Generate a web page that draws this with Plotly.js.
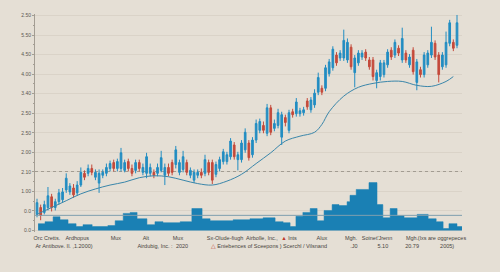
<!DOCTYPE html>
<html>
<head>
<meta charset="utf-8">
<script src="https://cdn.plot.ly/plotly-3.0.1.min.js"></script>
<style>
html,body{margin:0;padding:0;background:#e5dfd5;}
#chart{width:500px;height:272px;}
</style>
</head>
<body>
<div id="chart"></div>
<script>
// ---------- DATA ----------
const openPrice = [16.5,23.5,18.5,23.5,34.5,23.5,29.5,31.5,41.5,39.5,
  43.5,38.5,46.5,58.5,58.5,63.5,54.5,48.5,56.5,58.5,
  63.5,69.5,63.5,63.5,61.5,70.5,63.5,61.5,69.5,59.5,
  58.5,58.5,59.5,58.5,61.5,56.5,64.5,69.5,67.5,59.5,
  62.5,69.5,56.5,51.5,56.5,59.5,58.5,69.5,69.5,57.5,
  63.5,70.5,70.5,75.5,87.5,72.5,72.5,82.5,89.5,77.5,
  92.5,102.5,107.5,99.5,125.5,104.5,107.5,95.5,115.5,102.5,
  121.5,119.5,119.5,120.5,132.5,123.5,128.5,141.5,145.5,145.5,
  160.5,166.5,179.5,176.5,176.5,174.5,187.5,161.5,171.5,177.5,
  182.5,174.5,174.5,153.5,157.5,159.5,169.5,184.5,179.5,186.5,
  174.5,181.5,169.5,184.5,151.5,164.5,159.5,169.5,179.5,191.5,
  179.5,167.5,169.5,191.5,192.5,189.5];
const highPrice = [32.5,26.5,30.5,44.5,37.5,32.5,42.5,43.5,58.5,48.5,
  47.5,50.5,64.5,61.5,67.5,67.5,62.5,62.5,62.5,68.5,
  71.5,72.5,73.5,84.5,72.5,73.5,67.5,72.5,72.5,68.5,
  79.5,68.5,62.5,68.5,81.5,68.5,68.5,72.5,86.5,72.5,
  81.5,72.5,64.5,62.5,62.5,63.5,77.5,72.5,72.5,70.5,
  75.5,83.5,80.5,94.5,90.5,80.5,92.5,104.5,92.5,95.5,
  113.5,114.5,111.5,129.5,128.5,113.5,124.5,121.5,118.5,123.5,
  124.5,135.5,125.5,126.5,135.5,136.5,144.5,161.5,148.5,169.5,
  175.5,188.5,182.5,184.5,205.5,196.5,190.5,179.5,184.5,184.5,
  185.5,177.5,177.5,164.5,174.5,174.5,185.5,187.5,195.5,189.5,
  207.5,184.5,180.5,187.5,175.5,167.5,182.5,184.5,208.5,194.5,
  182.5,182.5,203.5,215.5,195.5,220.5];
const lowPrice = [13.5,10.5,16.5,20.5,19.5,20.5,26.5,28.5,38.5,36.5,
  33.5,35.5,44.5,51.5,55.5,56.5,51.5,38.5,53.5,55.5,
  60.5,60.5,60.5,60.5,59.5,60.5,55.5,58.5,60.5,56.5,
  53.5,55.5,53.5,55.5,59.5,46.5,55.5,56.5,63.5,56.5,
  59.5,56.5,53.5,48.5,53.5,53.5,55.5,56.5,47.5,54.5,
  60.5,67.5,67.5,72.5,72.5,61.5,69.5,79.5,71.5,74.5,
  89.5,99.5,99.5,96.5,97.5,101.5,104.5,87.5,106.5,99.5,
  115.5,116.5,116.5,117.5,123.5,120.5,125.5,138.5,138.5,142.5,
  157.5,163.5,168.5,173.5,173.5,171.5,164.5,146.5,168.5,174.5,
  173.5,164.5,153.5,145.5,153.5,156.5,166.5,174.5,176.5,178.5,
  171.5,171.5,166.5,159.5,143.5,156.5,156.5,166.5,176.5,174.5,
  151.5,164.5,166.5,188.5,183.5,186.5];
const closePrice = [28.5,15.5,26.5,35.5,23.5,29.5,38.5,39.5,53.5,45.5,
  36.5,46.5,59.5,54.5,63.5,59.5,59.5,58.5,59.5,64.5,
  68.5,63.5,70.5,79.5,69.5,63.5,58.5,69.5,63.5,64.5,
  75.5,64.5,56.5,64.5,74.5,64.5,58.5,59.5,82.5,69.5,
  75.5,59.5,61.5,59.5,59.5,56.5,72.5,59.5,51.5,67.5,
  72.5,80.5,77.5,91.5,75.5,77.5,89.5,100.5,74.5,92.5,
  109.5,111.5,102.5,125.5,100.5,109.5,120.5,118.5,110.5,120.5,
  118.5,131.5,122.5,123.5,126.5,133.5,140.5,156.5,141.5,166.5,
  172.5,185.5,171.5,181.5,194.5,192.5,167.5,176.5,181.5,181.5,
  176.5,167.5,157.5,161.5,171.5,171.5,182.5,177.5,192.5,181.5,
  196.5,174.5,177.5,162.5,172.5,159.5,179.5,181.5,192.5,177.5,
  159.5,179.5,192.5,212.5,186.5,212.5];

// moving-average curve, read at selected sessions
const maSession = [0,4,8,12,16,20,24,28,32,36,40,44,48,52,56,60,64,68,72,76,78,80,84,88,92,96,100,104,108,112,114];
const maValue   = [16.5,23.5,30.5,37.5,42.5,46.5,49.5,54,56,55,51.5,48,46.5,50.5,57.5,68.5,79.5,91.5,96.5,100.5,108.5,121.5,137.5,146.5,150.5,152.5,152.5,148.5,147.5,152.5,157.5];

// volume blocks: start session of each block, plus closing edge
const volumeStart = [0.3,2.2,4.4,6.3,8.5,10.7,12.6,15.1,19.4,21.4,23.6,25.5,27.4,30.1,32.3,34.5,39.2,42.4,45.2,47.4,53.7,58.3,61.9,65.2,67.4,69.3,70.9,72.8,74.8,76.7,78.6,80.8,82.7,84.9,85.7,87.4,90.9,93.1,94.7,96.7,98.6,100.5,104.1,107.1,109.3,111.2,112.8,115.0];
const volumeEnd = 116.4;
const volume = [7,9,14,11,7,4,6,4,5,10,17.5,18.5,12,6,9,8,9,22.5,12,10,11,12,13,9,8,4,14.5,18.5,22.5,10,20.5,26.5,25.5,29.5,36,42,49,26.5,13,22.5,15,13,16.5,12,9,2,7,4];
const volumeRefLevel = 15.5;

// y tick labels (as printed, gridline every 20 units)
const priceTickValues = [0,20,40,60,80,100,120,140,160,180,200,220];
const priceTickLabels = ["0.0","0.0","1.00","2.10","2.00","2.50","2.50","3.40","4.00","4.50","5.50","2.50"];
const dottedLevel = [60];

// x labels, two rows (session positions)
const row1Pos = [2.7,11.0,21.6,29.8,38.6,51.5,61.6,69.0,78.0,86.0,93.1,102.7,110.9];
const row1Labels = ["Orc Cretts.","Ardhopus","Mux","Alt","Mux","Sx-Olude-fiugh","Airbolle, Inc.,",
  '<span style="color:#c0392b">▲</span> lnts',"Alux","Mgh.","Soinet'Jrenn","Mgh.","(lxs are oggrepeces"];
const row2Pos = [7.4,32.3,39.7,63.5,86.8,94.7,102.7,112.3];
const row2Labels = ["Ar Antibove. Il. ,1.2000)","Airdubig, Inc. :","2020",
  '<span style="color:#c0392b">△</span> Eniebences of Sceepons ) Scerchl / Vilsnand',".J0","5.10","20.79","2005)"];

// ---------- BUILD ----------
const session = openPrice.map((_, i) => i);
const minorTicks = priceTickValues.slice(0, -1).map(v => v + 10);
const xRange = [-0.55, 116.37];
const yRange = [-1.53, 221.5];
const bg = '#e5dfd5';
const font = 'Liberation Sans, Arial, sans-serif';

const traces = [
  {
    type: 'scatter', mode: 'lines', x: volumeStart.concat([volumeEnd]),
    y: volume.concat([volume[volume.length - 1]]),
    line: {shape: 'hv', color: '#1a80b4', width: 0.5},
    fill: 'tozeroy', fillcolor: '#1a80b4', hoverinfo: 'skip'
  },
  {
    type: 'candlestick', x: session, open: openPrice, high: highPrice, low: lowPrice, close: closePrice,
    increasing: {line: {color: '#228dc2', width: 1}, fillcolor: '#228dc2'},
    decreasing: {line: {color: '#c44a3b', width: 1}, fillcolor: '#c44a3b'},
    whiskerwidth: 0
  },
  {
    type: 'scatter', mode: 'lines', x: maSession, y: maValue, xaxis: 'x2', yaxis: 'y2',
    line: {shape: 'spline', smoothing: 1, color: '#3a86aa', width: 1}, hoverinfo: 'skip'
  }
];

const layout = {
  width: 500, height: 272,
  margin: {l: 35, r: 38, t: 14, b: 40},
  paper_bgcolor: bg, plot_bgcolor: bg,
  showlegend: false,
  boxgap: 0.35,
  font: {family: font},
  xaxis: {
    range: xRange, rangeslider: {visible: false}, showgrid: false, zeroline: false, showline: false,
    tickmode: 'array', tickvals: row1Pos, ticktext: row1Labels, ticks: '', tickangle: 0,
    tickfont: {family: font, size: 5.5, color: '#474440'}, ticklabelstandoff: 1
  },
  xaxis2: {
    range: xRange, overlaying: 'x', anchor: 'y2', side: 'bottom', showgrid: false, zeroline: false, showline: false,
    tickmode: 'array', tickvals: row2Pos, ticktext: row2Labels, ticks: '', tickangle: 0,
    tickfont: {family: font, size: 5.5, color: '#474440'}, ticklabelstandoff: 9
  },
  yaxis: {
    range: yRange, tickmode: 'array', tickvals: priceTickValues, ticktext: priceTickLabels,
    showline: true, linecolor: '#a39d93', linewidth: 1, ticks: 'outside', ticklen: 2, tickcolor: '#a39d93',
    gridcolor: '#dad3c8', gridwidth: 1, zeroline: false,
    tickfont: {family: font, size: 5, color: '#5a5650'},
    minor: {tickvals: minorTicks, ticks: 'outside', ticklen: 1.5, tickcolor: '#a39d93', showgrid: false}
  },
  yaxis2: {
    range: yRange, overlaying: 'y', anchor: 'x2', tickmode: 'array', tickvals: dottedLevel,
    showticklabels: false, ticks: '', gridcolor: '#a29c92', griddash: 'dot', gridwidth: 1, zeroline: false
  },
  shapes: [{
    type: 'line', xref: 'paper', x0: 0, x1: 1, yref: 'y', y0: volumeRefLevel, y1: volumeRefLevel,
    line: {color: '#7f9fae', width: 1}
  }]
};

Plotly.newPlot('chart', traces, layout, {staticPlot: true, displayModeBar: false});
</script>
</body>
</html>
